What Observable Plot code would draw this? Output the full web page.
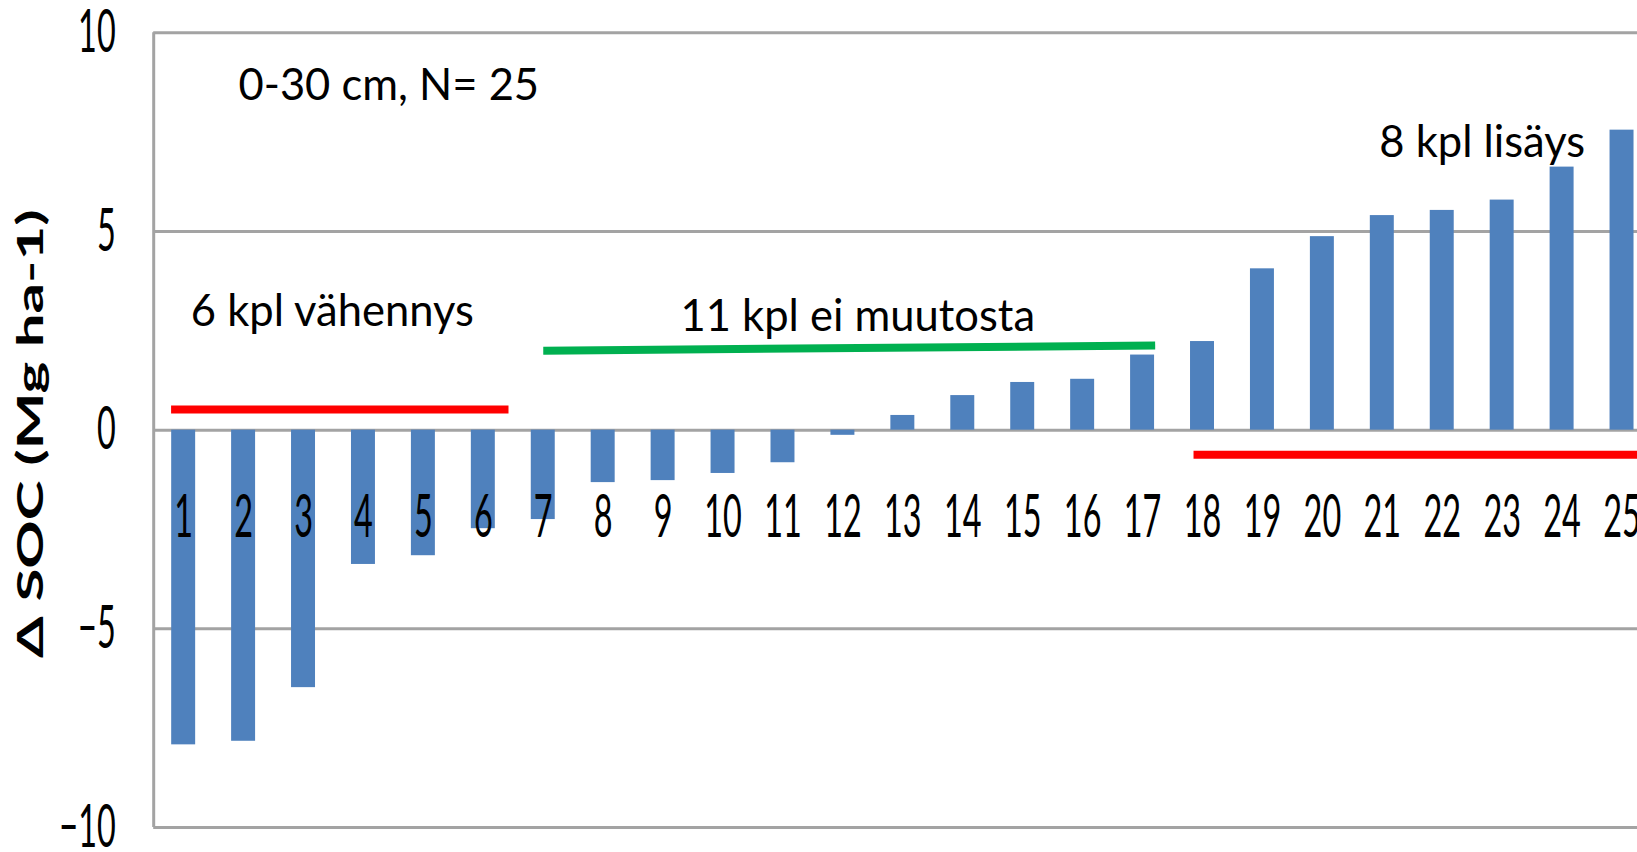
<!DOCTYPE html>
<html>
<head>
<meta charset="utf-8">
<script src="https://cdn.jsdelivr.net/npm/d3@7"></script>
<script src="https://cdn.jsdelivr.net/npm/@observablehq/plot@0.6"></script>
<style>
  html, body { margin: 0; padding: 0; background: white; overflow: hidden; }
  #chart svg { display: block; max-width: none; }
</style>
</head>
<body>
<div id="chart"></div>
<script>
// ---- data ----
const categories = [1, 2, 3, 4, 5, 6, 7, 8, 9, 10, 11, 12, 13, 14, 15, 16, 17, 18, 19, 20, 21, 22, 23, 24, 25];
const deltaSOC = [-7.92, -7.83, -6.48, -3.38, -3.16, -2.48, -2.25, -1.32, -1.27, -1.09, -0.82, -0.13,
                  0.37, 0.87, 1.2, 1.28, 1.89, 2.23, 4.06, 4.87, 5.4, 5.53, 5.79, 6.62, 7.55];
const yTicks = [-10, -5, 0, 5, 10];
const yTitle = "Δ SOC (Mg ha-1)";

// annotation lines, in (category, value) units
const lineDecrease = [[0.79, 0.52], [6.42, 0.52]];
const lineNoChange = [[7.0, 2.0], [17.21, 2.13]];
const lineIncrease = [[17.85, -0.62], [25.6, -0.62]];

// annotation texts, in (category, value) units of their baseline start
const noteLabels = ["0-30 cm, N= 25", "6 kpl vähennys", "11 kpl ei muutosta", "8 kpl lisäys"];
const noteX = [1.915, 1.12, 9.29, 20.95];
const noteY = [8.31, 2.63, 2.5, 6.88];

const bars = categories.map((c, i) => ({n: c, v: deltaSOC[i]}));
const notes = noteLabels.map((t, i) => ({label: t, x: noteX[i], y: noteY[i]}));

const grid = "#a3a3a3";
const chart = Plot.plot({
  width: 1637,
  height: 852,
  marginLeft: 153.2,
  marginRight: 0,
  marginTop: 32.3,
  marginBottom: 25,
  style: {fontFamily: "Lato, 'Open Sans', sans-serif", background: "white", overflow: "hidden", color: "black"},
  x: {domain: [0.5, 25.5], range: [153.2, 1651.5], axis: null},
  y: {domain: [-10, 10], range: [827, 32.3]},
  marks: [
    Plot.ruleY(yTicks, {stroke: grid, strokeWidth: 3}),
    Plot.ruleX([0.5], {stroke: grid, strokeWidth: 3}),
    Plot.rect(bars, {x1: d => d.n - 0.2, x2: d => d.n + 0.2, y1: 0, y2: "v", fill: "#4f81bd"}),
    Plot.axisY(yTicks, {tickSize: 0, tickPadding: 38, fontSize: 60, label: null, fill: "black"}),
    Plot.text(categories, {x: d => d, y: 0, text: d => String(d), dy: 88, fontSize: 60, fill: "black"}),
    Plot.line(lineDecrease, {x: d => d[0], y: d => d[1], stroke: "#ff0000", strokeWidth: 8, strokeLinecap: "butt"}),
    Plot.line(lineNoChange, {x: d => d[0], y: d => d[1], stroke: "#00b050", strokeWidth: 8, strokeLinecap: "butt"}),
    Plot.line(lineIncrease, {x: d => d[0], y: d => d[1], stroke: "#ff0000", strokeWidth: 8, strokeLinecap: "butt"}),
    Plot.text(notes, {x: "x", y: "y", text: "label", textAnchor: "start", dy: -14, fontSize: 43.5, fill: "black"}),
    Plot.text([yTitle], {frameAnchor: "left", text: d => d, textAnchor: "middle", lineAnchor: "middle", rotate: -90, dx: -122, dy: 3.5, fontSize: 36, fontWeight: "bold", fill: "black"})
  ]
});
document.getElementById("chart").appendChild(chart);

// the reference's tick digits and axis title are stretched (tall/narrow); mimic by scaling the text
function addScale(t, sx, sy) {
  let tr = t.getAttribute("transform");
  if (!tr) {
    const x = t.getAttribute("x") || 0, y = t.getAttribute("y") || 0;
    tr = `translate(${x},${y})`;
    t.removeAttribute("x");
    if (!String(y).endsWith("em")) t.removeAttribute("y");
  }
  t.setAttribute("transform", `${tr} scale(${sx},${sy})`);
}
chart.querySelectorAll("text").forEach(t => {
  const fs = parseFloat(getComputedStyle(t).fontSize);
  if (t.textContent === yTitle) {
    const len = t.getComputedTextLength();
    addScale(t, 449 / len, 1);
  } else if (Math.abs(fs - 60) < 0.5) {
    addScale(t, 0.54, 1);
  }
});
</script>
</body>
</html>
